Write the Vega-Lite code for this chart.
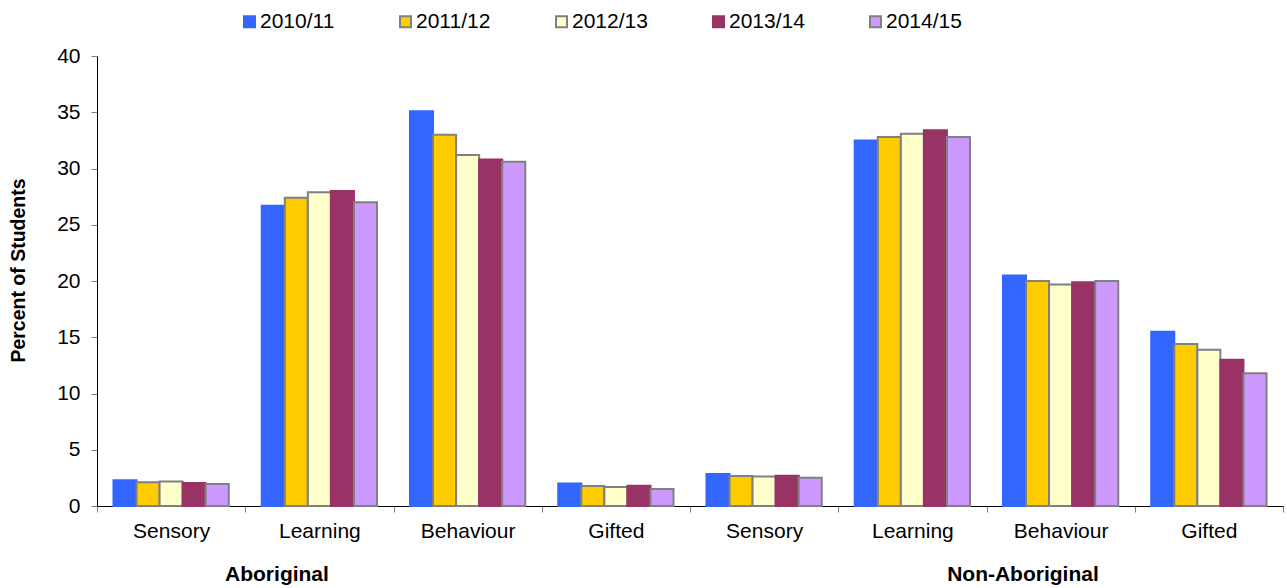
{
  "$schema": "https://vega.github.io/schema/vega-lite/v6.json",
  "autosize": "none",
  "width": 1186,
  "height": 450,
  "padding": {"left": 97, "top": 56, "right": 4, "bottom": 82},
  "background": "white",
  "config": {
    "font": "Liberation Sans",
    "view": {"stroke": null},
    "axis": {"labelFont": "Liberation Sans", "titleFont": "Liberation Sans", "labelColor": "black", "titleColor": "black", "grid": false}
  },
  "layer": [
    {
      "data": {
        "values": [
          {"cat": "A|Sensory", "year": "2010/11", "pct": 2.3},
          {"cat": "A|Sensory", "year": "2011/12", "pct": 2.12},
          {"cat": "A|Sensory", "year": "2012/13", "pct": 2.17},
          {"cat": "A|Sensory", "year": "2013/14", "pct": 2.05},
          {"cat": "A|Sensory", "year": "2014/15", "pct": 1.95},
          {"cat": "A|Learning", "year": "2010/11", "pct": 26.7},
          {"cat": "A|Learning", "year": "2011/12", "pct": 27.4},
          {"cat": "A|Learning", "year": "2012/13", "pct": 27.9},
          {"cat": "A|Learning", "year": "2013/14", "pct": 28.0},
          {"cat": "A|Learning", "year": "2014/15", "pct": 27.0},
          {"cat": "A|Behaviour", "year": "2010/11", "pct": 35.1},
          {"cat": "A|Behaviour", "year": "2011/12", "pct": 33.0},
          {"cat": "A|Behaviour", "year": "2012/13", "pct": 31.2},
          {"cat": "A|Behaviour", "year": "2013/14", "pct": 30.8},
          {"cat": "A|Behaviour", "year": "2014/15", "pct": 30.6},
          {"cat": "A|Gifted", "year": "2010/11", "pct": 2.0},
          {"cat": "A|Gifted", "year": "2011/12", "pct": 1.77},
          {"cat": "A|Gifted", "year": "2012/13", "pct": 1.7},
          {"cat": "A|Gifted", "year": "2013/14", "pct": 1.8},
          {"cat": "A|Gifted", "year": "2014/15", "pct": 1.52},
          {"cat": "N|Sensory", "year": "2010/11", "pct": 2.85},
          {"cat": "N|Sensory", "year": "2011/12", "pct": 2.66},
          {"cat": "N|Sensory", "year": "2012/13", "pct": 2.62},
          {"cat": "N|Sensory", "year": "2013/14", "pct": 2.7},
          {"cat": "N|Sensory", "year": "2014/15", "pct": 2.52},
          {"cat": "N|Learning", "year": "2010/11", "pct": 32.5},
          {"cat": "N|Learning", "year": "2011/12", "pct": 32.8},
          {"cat": "N|Learning", "year": "2012/13", "pct": 33.1},
          {"cat": "N|Learning", "year": "2013/14", "pct": 33.4},
          {"cat": "N|Learning", "year": "2014/15", "pct": 32.8},
          {"cat": "N|Behaviour", "year": "2010/11", "pct": 20.5},
          {"cat": "N|Behaviour", "year": "2011/12", "pct": 20.0},
          {"cat": "N|Behaviour", "year": "2012/13", "pct": 19.7},
          {"cat": "N|Behaviour", "year": "2013/14", "pct": 19.9},
          {"cat": "N|Behaviour", "year": "2014/15", "pct": 20.0},
          {"cat": "N|Gifted", "year": "2010/11", "pct": 15.5},
          {"cat": "N|Gifted", "year": "2011/12", "pct": 14.4},
          {"cat": "N|Gifted", "year": "2012/13", "pct": 13.9},
          {"cat": "N|Gifted", "year": "2013/14", "pct": 13.0},
          {"cat": "N|Gifted", "year": "2014/15", "pct": 11.8}
        ]
      },
      "mark": {"type": "bar", "strokeWidth": 2},
      "encoding": {
        "x": {
          "field": "cat",
          "type": "nominal",
          "scale": {
            "domain": ["A|Sensory", "A|Learning", "A|Behaviour", "A|Gifted", "N|Sensory", "N|Learning", "N|Behaviour", "N|Gifted"],
            "paddingInner": 0,
            "paddingOuter": 0
          },
          "axis": {
            "title": null,
            "labelAngle": 0,
            "labelExpr": "split(datum.label, '|')[1]",
            "labelFontSize": 21,
            "labelPadding": 8,
            "tickBand": "extent",
            "tickSize": 6,
            "tickColor": "#808080",
            "domainColor": "black",
            "domainWidth": 1
          }
        },
        "xOffset": {
          "field": "year",
          "type": "nominal",
          "scale": {"paddingInner": 0, "paddingOuter": 0.715}
        },
        "y": {
          "field": "pct",
          "type": "quantitative",
          "scale": {"domain": [0, 40], "nice": false},
          "axis": {
            "title": "Percent of Students",
            "titleFontSize": 19.5,
            "titleFontWeight": "bold",
            "titlePadding": 28,
            "titleY": 214,
            "values": [0, 5, 10, 15, 20, 25, 30, 35, 40],
            "labelFontSize": 21,
            "labelPadding": 11,
            "tickSize": 6,
            "tickColor": "#808080",
            "domainColor": "black",
            "domainWidth": 1
          }
        },
        "color": {
          "field": "year",
          "type": "nominal",
          "scale": {
            "domain": ["2010/11", "2011/12", "2012/13", "2013/14", "2014/15"],
            "range": ["#3366FF", "#FFCC00", "#FFFFCC", "#993366", "#CC99FF"]
          },
          "legend": {
            "title": null,
            "orient": "none",
            "direction": "horizontal",
            "legendX": 142,
            "legendY": -45,
            "padding": 0,
            "labelFontSize": 21,
            "labelOffset": 0,
            "columnPadding": 60,
            "symbolType": "square",
            "symbolSize": 121,
            "symbolStrokeWidth": 2,
            "symbolOpacity": 1,
            "labelLimit": 200
          }
        },
        "stroke": {
          "field": "year",
          "type": "nominal",
          "scale": {
            "domain": ["2010/11", "2011/12", "2012/13", "2013/14", "2014/15"],
            "range": ["#3366FF", "#808080", "#808080", "#993366", "#808080"]
          },
          "legend": {
            "title": null,
            "orient": "none",
            "direction": "horizontal",
            "legendX": 142,
            "legendY": -45,
            "padding": 0,
            "labelFontSize": 21,
            "labelOffset": 0,
            "columnPadding": 60,
            "symbolType": "square",
            "symbolSize": 121,
            "symbolStrokeWidth": 2,
            "symbolOpacity": 1,
            "labelLimit": 200
          }
        }
      }
    },
    {
      "data": {"values": [{"cat": "A|Learning", "group": "Aboriginal"}]},
      "mark": {"type": "text", "fontSize": 21, "fontWeight": "bold", "dy": 69, "align": "center", "baseline": "middle", "color": "black"},
      "encoding": {
        "x": {"field": "cat", "type": "nominal", "bandPosition": 0.214},
        "y": {"datum": 0},
        "text": {"field": "group"}
      }
    },
    {
      "data": {"values": [{"cat": "N|Behaviour", "group": "Non-Aboriginal"}]},
      "mark": {"type": "text", "fontSize": 21, "fontWeight": "bold", "dy": 69, "align": "center", "baseline": "middle", "color": "black"},
      "encoding": {
        "x": {"field": "cat", "type": "nominal", "bandPosition": 0.246},
        "y": {"datum": 0},
        "text": {"field": "group"}
      }
    }
  ]
}
